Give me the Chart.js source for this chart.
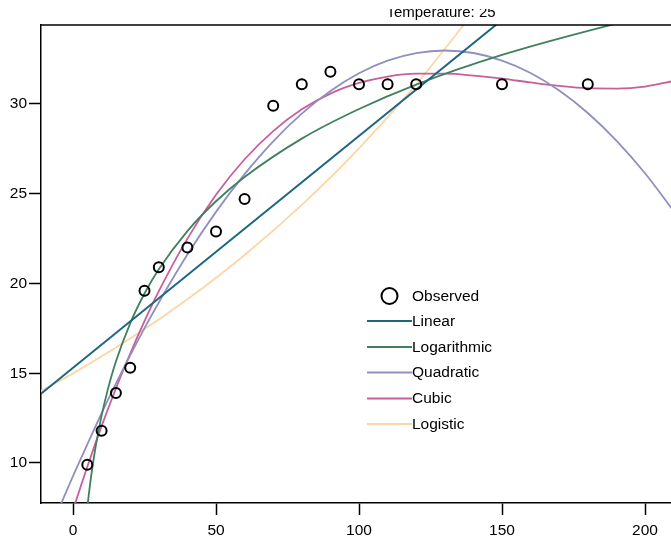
<!DOCTYPE html>
<html>
<head>
<meta charset="utf-8">
<script src="https://cdn.jsdelivr.net/npm/chart.js@4/dist/chart.umd.min.js"></script>
<style>
  html, body { margin: 0; padding: 0; background: #fff; }
  #wrap { width: 671px; height: 545px; }
</style>
</head>
<body>
<div id="wrap"><canvas id="fitChart" width="671" height="545"></canvas></div>
<script>
/* Observed points */
var obsX = [5, 10, 15, 20, 25, 30, 40, 50, 60, 70, 80, 90, 100, 110, 120, 150, 180];
var obsY = [9.9, 11.8, 13.9, 15.3, 19.6, 20.9, 22.0, 22.9, 24.7, 29.9, 31.1, 31.8, 31.1, 31.1, 31.1, 31.1, 31.1];

/* Fitted curves, values */
var linearX = [-12, 210];
var linearY = [13.75, 42.43];

var logX = [4, 5, 6, 7, 8, 10, 12, 15, 20, 25, 30, 40, 50, 60, 80, 100, 120, 150, 190, 210];
var logY = [5.84, 7.50, 8.85, 9.99, 10.98, 12.64, 13.99, 15.65, 17.78, 19.44, 20.79, 22.92, 24.58, 25.93, 28.07, 29.72, 31.08, 32.73, 34.48, 35.23];

var polyX = [-12, -5, 0, 5, 10, 15, 20, 25, 30, 40, 50, 60, 70, 80, 90, 100, 110, 120, 130, 140, 150, 160, 170, 180, 190, 200, 210];
var quadY = [4.69, 7.41, 9.27, 11.03, 12.77, 14.42, 16.00, 17.51, 18.94, 21.61, 23.99, 26.09, 27.92, 29.46, 30.72, 31.71, 32.41, 32.83, 32.98, 32.84, 32.42, 31.73, 30.75, 29.50, 27.96, 26.14, 24.04];
var cubicY = [0.88, 4.79, 7.37, 9.79, 12.05, 14.15, 16.10, 17.90, 19.57, 22.50, 24.94, 26.92, 28.49, 29.70, 30.58, 31.17, 31.53, 31.69, 31.69, 31.58, 31.41, 31.20, 31.01, 30.88, 30.86, 30.97, 31.28];

var logisticX = [-12, 0, 20, 40, 60, 80, 100, 120, 140];
var logisticY = [13.94, 14.99, 16.93, 19.12, 21.59, 24.38, 27.53, 31.09, 35.10];

var xTicks = [0, 50, 100, 150, 200];
var yTicks = [10, 15, 20, 25, 30];

var seriesNames = ['Observed', 'Linear', 'Logarithmic', 'Quadratic', 'Cubic', 'Logistic'];
var seriesColors = ['#000000', '#1f6680', '#3f805e', '#8f8fc0', '#c95f98', '#fdd6a6'];
var titleText = 'Temperature: 25';

var FONT = "'Liberation Sans', Arial, sans-serif";

function pairs(xs, ys) {
    var out = [];
    for (var i = 0; i < xs.length; i++) out.push({x: xs[i], y: ys[i]});
    return out;
}

function fitLine(idx, xs, ys) {
    return {
        label: seriesNames[idx],
        data: pairs(xs, ys),
        borderColor: seriesColors[idx],
        borderWidth: idx === 1 ? 2 : 1.8,
        pointRadius: 0,
        fill: false,
        cubicInterpolationMode: 'monotone',
        clip: 0
    };
}

/* title (cut at the top like the source), top frame line and legend */
var decorPlugin = {
    id: 'decor',
    afterDraw: function(chart) {
        var ctx = chart.ctx;
        var area = chart.chartArea;

        ctx.save();
        ctx.strokeStyle = '#000';
        ctx.lineWidth = 1.5;
        ctx.beginPath();
        ctx.moveTo(area.left, area.top);
        ctx.lineTo(area.right, area.top);
        ctx.stroke();

        ctx.beginPath();
        ctx.rect(0, 9, chart.width, 16);
        ctx.clip();
        ctx.fillStyle = '#000';
        ctx.font = '15px ' + FONT;
        ctx.textAlign = 'center';
        ctx.textBaseline = 'alphabetic';
        ctx.fillText(titleText, 441, 16.5);
        ctx.restore();

        // legend
        ctx.save();
        ctx.font = '15.5px ' + FONT;
        ctx.textAlign = 'left';
        ctx.textBaseline = 'middle';
        var rowY = [296, 321, 347, 372.5, 398.5, 424];
        for (var i = 0; i < seriesNames.length; i++) {
            if (i === 0) {
                ctx.strokeStyle = '#000';
                ctx.lineWidth = 2;
                ctx.beginPath();
                ctx.arc(389.5, rowY[i], 8, 0, Math.PI * 2);
                ctx.stroke();
            } else {
                ctx.strokeStyle = seriesColors[i];
                ctx.lineWidth = 2;
                ctx.beginPath();
                ctx.moveTo(367, rowY[i]);
                ctx.lineTo(412, rowY[i]);
                ctx.stroke();
            }
            ctx.fillStyle = '#000';
            ctx.fillText(seriesNames[i], 412, rowY[i] + 0.5);
        }
        ctx.restore();
    }
};

var ctx = document.getElementById('fitChart').getContext('2d');
var chart = new Chart(ctx, {
    type: 'line',
    data: {
        datasets: [
            {
                label: seriesNames[0],
                data: pairs(obsX, obsY),
                showLine: false,
                pointRadius: 5,
                pointHoverRadius: 5,
                pointBorderWidth: 2,
                pointBorderColor: '#000',
                pointBackgroundColor: 'rgba(0,0,0,0)',
                clip: 0
            },
            fitLine(1, linearX, linearY),
            fitLine(2, logX, logY),
            fitLine(3, polyX, quadY),
            fitLine(4, polyX, cubicY),
            fitLine(5, logisticX, logisticY)
        ]
    },
    options: {
        responsive: false,
        animation: false,
        layout: { autoPadding: false, padding: { top: 25, right: 0, bottom: 0, left: 0 } },
        plugins: {
            legend: { display: false },
            tooltip: { enabled: false },
            title: { display: false }
        },
        scales: {
            x: {
                type: 'linear',
                min: -11.19,
                max: 209.09,
                afterFit: function(scale) {
                    scale.height = 42;
                    scale.paddingLeft = 0;
                    scale.paddingRight = 0;
                },
                afterBuildTicks: function(scale) {
                    scale.ticks = xTicks.map(function(v) { return {value: v}; });
                },
                border: { display: true, color: '#000', width: 1.5 },
                grid: { drawOnChartArea: false, drawTicks: true, tickLength: 12, tickColor: '#000', tickWidth: 1.5 },
                ticks: { color: '#000', padding: 6, maxRotation: 0, font: { family: FONT, size: 15.5 } }
            },
            y: {
                type: 'linear',
                min: 7.77,
                max: 34.40,
                afterFit: function(scale) {
                    scale.width = 41;
                    scale.paddingTop = 0;
                    scale.paddingBottom = 0;
                },
                afterBuildTicks: function(scale) {
                    scale.ticks = yTicks.map(function(v) { return {value: v}; });
                },
                border: { display: true, color: '#000', width: 1.5 },
                grid: { drawOnChartArea: false, drawTicks: true, tickLength: 12, tickColor: '#000', tickWidth: 1.5 },
                ticks: { color: '#000', padding: 2, font: { family: FONT, size: 15.5 } }
            }
        }
    },
    plugins: [decorPlugin]
});
</script>
</body>
</html>
